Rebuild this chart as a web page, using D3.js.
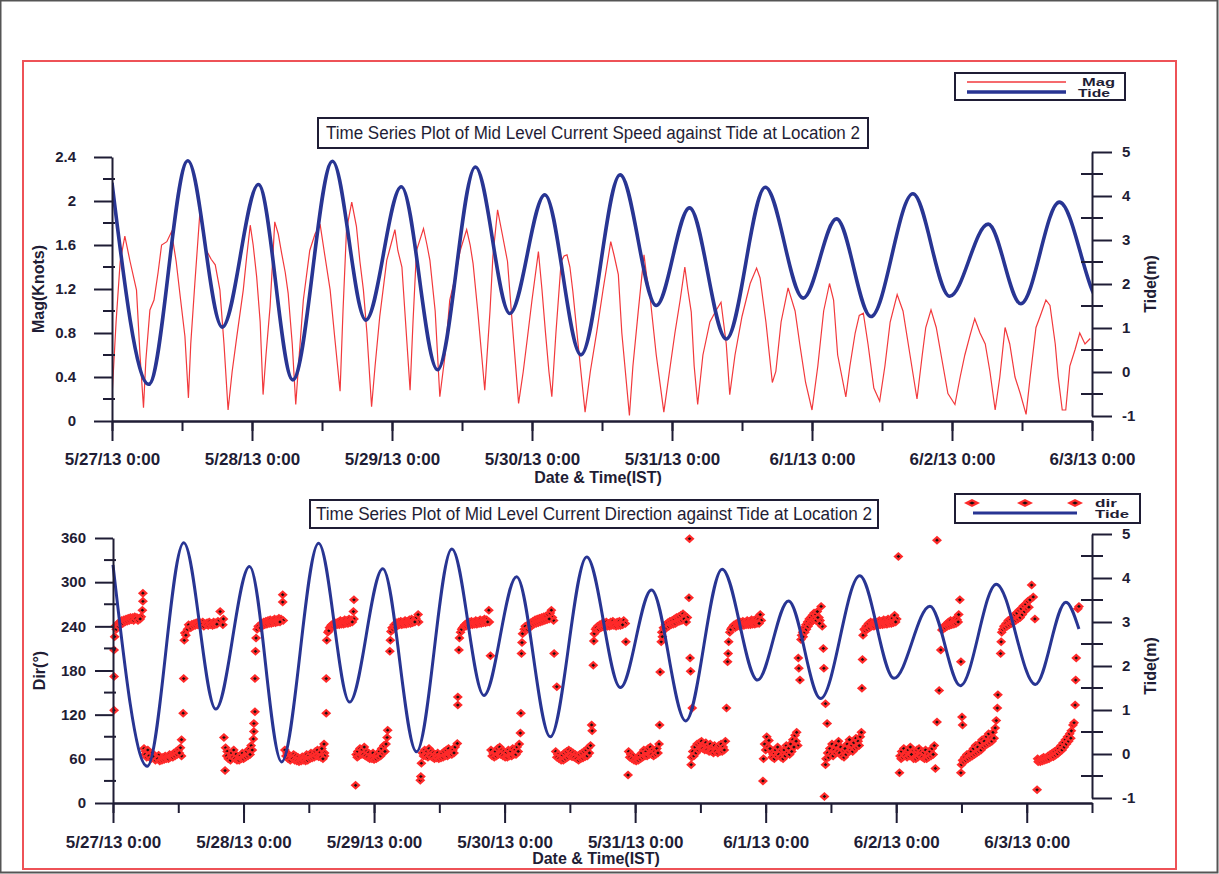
<!DOCTYPE html>
<html>
<head>
<meta charset="utf-8">
<script src="https://cdn.jsdelivr.net/npm/d3@7"></script>
<style>
  body { margin: 0; background: #fff; }
  svg text { font-family: "Liberation Sans Narrow", "Arial Narrow", "Liberation Sans", Arial, sans-serif; fill: #1f1d35; }
</style>
</head>
<body>
<svg id="chart" width="1219" height="874"></svg>
<script>
// hours after 5/27/13 0:00 (IST)
const tideHours = [0, 6.3, 13.0, 18.9, 25.1, 31.0, 37.8, 43.5, 49.6, 55.8, 62.3, 68.2, 74.2, 80.4, 87.1,
  93.3, 99.0, 105.3, 112.0, 118.5, 124.2, 130.1, 137.3, 143.6, 150.2, 155.8, 162.4, 169.6, 175.2, 177.6];
const tideValues = [4.3, -0.28, 4.8, 1.02, 4.26, -0.18, 4.79, 1.18, 4.21, 0.05, 4.66, 1.33, 4.03, 0.39, 4.48,
  1.51, 3.73, 0.75, 4.2, 1.68, 3.48, 1.26, 4.05, 1.72, 3.36, 1.55, 3.86, 1.58, 3.45, 2.84];

const magHours = [0, 0.7, 1.4, 2.2, 3.1, 4.2, 4.8, 5.4, 5.8, 6.5, 7.2, 7.9, 8.5, 9.4, 10.2, 11.0, 11.7, 12.5, 13.1, 13.5,
  14.2, 15.1, 15.6, 16.2, 17.0, 17.7, 18.5, 19.2, 19.9, 20.6, 21.4, 22.5, 23.1, 23.7, 24.2, 24.8, 25.4, 25.9, 26.4, 27.1,
  27.9, 28.5, 29.1, 29.7, 30.2, 30.9, 31.5, 32.1, 32.8, 33.9, 34.8, 35.7, 36.5, 37.4, 38.2, 39.1, 39.6, 40.2, 41.1, 41.9,
  42.5, 43.1, 43.7, 44.5, 45.1, 45.9, 47.1, 47.8, 48.5, 49.0, 49.7, 50.2, 51.1, 51.6, 52.2, 53.4, 54.0, 54.5, 55.4, 56.2,
  57.1, 57.9, 58.8, 59.7, 60.8, 61.4, 61.9, 62.7, 63.9, 64.8, 65.3, 66.1, 66.9, 67.8, 68.6, 69.7, 70.5, 71.2, 72.0, 73.1,
  73.7, 74.3, 74.9, 75.4, 76.1, 77.0, 77.5, 78.0, 78.5, 79.0, 79.9, 81.1, 82.0, 83.1, 84.2, 85.5, 86.1, 86.8, 87.4, 88.7,
  89.3, 90.2, 91.2, 91.7, 92.2, 93.3, 94.6, 95.7, 96.5, 97.4, 98.2, 98.7, 99.3, 99.8, 100.4, 101.3, 102.5, 103.5, 104.4, 105.3,
  105.9, 106.8, 108.0, 109.4, 110.5, 111.1, 112.1, 113.2, 113.8, 114.7, 115.9, 117.1, 117.9, 118.9, 120.0, 121.0, 122.0, 123.0, 123.7, 124.4,
  125.8, 126.5, 127.4, 128.1, 128.8, 129.6, 130.6, 131.6, 132.5, 133.4, 134.6, 135.6, 136.8, 138.0, 138.9, 139.5, 140.4, 141.3, 142.3, 143.3,
  144.5, 145.4, 146.2, 147.1, 147.9, 148.8, 149.7, 150.5, 151.4, 152.2, 153.1, 153.9, 154.8, 155.7, 156.7, 157.4, 158.4, 159.1, 160.1, 160.8,
  161.7, 162.2, 162.9, 163.5, 164.2, 165.1, 165.9, 166.8, 167.7];
const magValues = [0.22, 0.9, 1.45, 1.68, 1.45, 1.19, 0.6, 0.12, 0.55, 1.01, 1.1, 1.35, 1.6, 1.63, 1.72, 1.45, 1.13, 0.77, 0.21, 0.7,
  1.25, 1.92, 1.7, 1.55, 1.47, 1.42, 1.19, 0.7, 0.1, 0.45, 0.77, 1.19, 1.5, 1.78, 1.6, 1.31, 0.9, 0.24, 0.6, 1.04,
  1.81, 1.7, 1.52, 1.35, 1.16, 0.7, 0.15, 0.6, 1.1, 1.55, 1.7, 1.78, 1.5, 1.19, 0.75, 0.27, 1.0, 1.74, 1.99, 1.77,
  1.45, 1.19, 0.8, 0.13, 0.5, 0.95, 1.46, 1.6, 1.74, 1.55, 1.4, 1.0, 0.28, 0.9, 1.55, 1.75, 1.6, 1.46, 1.0, 0.22,
  0.6, 1.1, 1.3, 1.55, 1.74, 1.6, 1.43, 1.0, 0.28, 1.0, 1.5, 1.92, 1.7, 1.45, 0.9, 0.16, 0.45, 0.75, 1.1, 1.54,
  1.2, 0.81, 0.45, 0.22, 0.8, 1.45, 1.5, 1.51, 1.4, 1.18, 0.7, 0.08, 0.45, 0.81, 1.2, 1.63, 1.5, 1.33, 0.8, 0.05,
  0.5, 0.99, 1.51, 1.3, 1.15, 0.6, 0.08, 0.5, 0.8, 1.1, 1.4, 1.2, 0.99, 0.5, 0.15, 0.6, 0.9, 1.0, 1.08, 0.7,
  0.24, 0.6, 0.95, 1.25, 1.39, 1.3, 0.9, 0.35, 0.45, 0.9, 1.21, 1.0, 0.7, 0.35, 0.1, 0.5, 1.0, 1.25, 1.1, 0.6,
  0.22, 0.5, 0.8, 0.96, 0.98, 0.7, 0.3, 0.18, 0.5, 0.9, 1.15, 1.0, 0.6, 0.2, 0.6, 0.85, 1.01, 0.85, 0.55, 0.25,
  0.15, 0.4, 0.6, 0.78, 0.93, 0.8, 0.7, 0.45, 0.1, 0.4, 0.85, 0.7, 0.4, 0.25, 0.06, 0.4, 0.85, 0.95, 1.1, 1.05,
  0.7, 0.4, 0.1, 0.1, 0.5, 0.65, 0.8, 0.7, 0.75];

// [hours, direction in degrees]
const dirPoints = [
  [0.2,126],[0.2,172],[0.2,208],[0.3,226],[0.4,240],[0.8,243],[1.2,246],[1.6,248],[2.0,249],[2.4,250],[2.8,251],[3.2,252],
  [3.6,252],[4.0,253],[4.4,252],[4.8,251],[5.2,253],[5.4,262],[5.5,274],[5.5,285],
  [0.6,236],[1.0,240],[1.4,242],[1.8,244],[2.2,246],[2.6,247],[3.0,248],[3.4,249],[3.8,248],[4.2,250],[4.6,248],[5.0,250],
  [5.7,74],[6.0,70],[6.4,72],[6.8,66],[7.2,68],[7.6,64],[8.0,62],[8.4,65],[8.8,60],[9.2,62],[9.6,64],[10.0,63],[10.4,66],
  [10.8,65],[11.2,68],[11.6,70],[12.0,72],[12.4,75],[12.6,86],[12.6,64],
  [5.9,66],[6.2,62],[6.6,64],[7.0,60],[7.4,63],[7.8,58],[8.2,60],[8.6,57],[9.0,58],[9.4,59],[9.8,60],[10.2,60],[10.6,62],
  [11.0,62],[11.4,64],[11.8,66],[12.2,68],
  [12.9,122],[13.0,169],[13.1,221],[13.2,231],
  [13.4,228],[13.7,236],[14.1,240],[14.5,243],[14.9,244],[15.3,245],[15.7,246],[16.1,245],[16.5,246],[16.9,244],[17.3,245],
  [17.7,246],[18.1,244],[18.5,246],[18.9,245],[19.3,247],[19.7,260],[20.2,242],[20.3,250],
  [13.9,242],[14.3,238],[14.7,240],[15.1,241],[15.5,242],[15.9,241],[16.3,242],[16.7,240],[17.1,242],[17.5,241],[17.9,242],
  [18.3,241],[18.7,242],[19.1,243],
  [20.4,89],[20.6,44],[20.7,75],[21.0,70],[21.4,63],[21.8,68],[22.2,72],[22.6,66],[23.0,62],[23.4,64],[23.8,68],[24.2,64],
  [24.6,70],[25.0,73],[25.4,78],[25.8,87],[25.9,97],[25.9,108],
  [20.9,64],[21.2,60],[21.6,58],[22.0,62],[22.4,60],[22.8,58],[23.2,58],[23.6,60],[24.0,60],[24.4,62],[24.8,64],[25.2,66],[25.6,72],
  [26.1,124],[26.1,169],[26.2,206],[26.3,224],
  [26.5,236],[26.9,240],[27.3,244],[27.7,246],[28.1,247],[28.5,248],[28.9,249],[29.3,248],[29.7,250],[30.1,249],[30.5,251],
  [30.9,250],[31.2,273],[31.2,283],[31.3,248],
  [26.7,240],[27.1,238],[27.5,241],[27.9,242],[28.3,243],[28.7,244],[29.1,244],[29.5,245],[29.9,245],[30.3,246],[30.7,246],
  [31.6,72],[32.0,68],[32.4,65],[32.8,63],[33.2,66],[33.6,64],[34.0,62],[34.4,60],[34.8,63],[35.2,62],[35.6,66],[36.0,64],
  [36.4,68],[36.8,66],[37.2,70],[37.6,72],[38.0,68],[38.4,74],[38.8,80],[38.9,68],[38.9,64],
  [31.8,64],[32.2,60],[32.6,58],[33.0,60],[33.4,58],[33.8,57],[34.2,56],[34.6,57],[35.0,58],[35.4,57],[35.8,58],[36.2,60],
  [36.6,61],[37.0,62],[37.4,64],[37.8,63],[38.2,62],[38.6,60],
  [39.2,122],[39.2,169],[39.3,221],
  [39.5,232],[39.8,238],[40.2,242],[40.6,244],[41.0,245],[41.4,246],[41.8,248],[42.2,247],[42.6,249],[43.0,248],[43.4,250],
  [43.8,249],[44.2,260],[44.3,276],[44.3,250],
  [39.7,234],[40.0,240],[40.4,240],[40.8,241],[41.2,242],[41.6,242],[42.0,243],[42.4,243],[42.8,244],[43.2,244],[43.6,245],[44.0,246],
  [44.6,24],[44.7,66],[45.0,70],[45.4,74],[45.8,72],[46.2,76],[46.6,70],[47.0,68],[47.4,65],[47.8,68],[48.2,64],[48.6,66],
  [49.0,70],[49.4,74],[49.8,78],[50.2,80],[50.4,89],[50.5,99],
  [44.9,62],[45.2,64],[45.6,66],[46.0,66],[46.4,64],[46.8,62],[47.2,60],[47.6,60],[48.0,59],[48.4,60],[48.8,62],[49.2,64],
  [49.6,68],[50.0,70],
  [50.9,206],[51.0,221],[51.1,233],
  [51.3,238],[51.7,242],[52.1,245],[52.5,246],[52.9,247],[53.3,246],[53.7,248],[54.1,247],[54.5,249],[54.9,250],[55.3,248],
  [55.7,251],[56.1,256],[56.2,246],
  [51.5,236],[51.9,238],[52.3,241],[52.7,242],[53.1,242],[53.5,243],[53.9,243],[54.3,244],[54.7,244],[55.1,245],[55.5,246],
  [56.5,31],[56.6,36],[56.7,54],[56.9,68],[57.3,72],[57.7,70],[58.1,74],[58.5,70],[58.9,68],[59.3,66],[59.7,68],[60.1,65],
  [60.5,67],[60.9,70],[61.3,72],[61.7,74],[62.1,70],[62.5,72],[62.9,76],[63.3,81],[63.4,133],[63.4,144],
  [57.1,64],[57.5,64],[57.9,62],[58.3,64],[58.7,62],[59.1,60],[59.5,61],[59.9,60],[60.3,61],[60.7,62],[61.1,64],[61.5,64],
  [61.9,66],[62.3,66],[62.7,68],
  [63.6,208],[63.7,224],
  [63.9,232],[64.3,238],[64.7,242],[65.1,245],[65.5,246],[65.9,247],[66.3,246],[66.7,248],[67.1,247],[67.5,249],[67.9,248],
  [68.3,250],[68.7,249],[69.1,262],[69.2,246],[69.4,200],
  [64.1,236],[64.5,240],[64.9,240],[65.3,241],[65.7,242],[66.1,242],[66.5,243],[66.9,243],[67.3,244],[67.7,244],[68.1,245],
  [68.5,245],[68.9,246],
  [69.5,72],[69.9,68],[70.3,70],[70.7,74],[71.1,76],[71.5,72],[71.9,70],[72.3,68],[72.7,72],[73.1,70],[73.5,74],[73.9,72],
  [74.3,76],[74.7,80],[74.9,95],[75.0,122],
  [69.7,64],[70.1,62],[70.5,64],[70.9,66],[71.3,66],[71.7,64],[72.1,62],[72.5,62],[72.9,64],[73.3,64],[73.7,66],[74.1,66],[74.5,70],
  [75.1,203],[75.2,218],[75.3,230],
  [75.6,236],[76.0,240],[76.4,243],[76.8,245],[77.2,247],[77.6,249],[78.0,250],[78.4,251],[78.8,252],[79.2,253],[79.6,254],
  [80.0,256],[80.4,258],[80.8,252],[81.0,248],[81.1,203],[81.6,158],
  [75.8,240],[76.2,236],[76.6,238],[77.0,241],[77.4,243],[77.8,244],[78.2,245],[78.6,246],[79.0,247],[79.4,248],[79.8,249],
  [80.2,250],[80.6,262],
  [81.4,70],[81.8,66],[82.2,63],[82.6,65],[83.0,68],[83.4,70],[83.8,72],[84.2,70],[84.6,68],[85.0,66],[85.4,64],[85.8,66],
  [86.2,68],[86.6,70],[87.0,72],[87.4,75],[87.8,78],[88.0,106],[88.1,98],
  [81.6,62],[82.0,60],[82.4,58],[82.8,58],[83.2,60],[83.6,62],[84.0,64],[84.4,63],[84.8,62],[85.2,60],[85.6,58],[86.0,60],
  [86.4,61],[86.8,63],[87.2,64],[87.6,68],
  [88.3,187],[88.4,220],[88.5,230],
  [88.7,236],[89.1,240],[89.5,242],[89.9,244],[90.3,245],[90.7,246],[91.1,244],[91.5,246],[91.9,247],[92.3,245],[92.7,246],
  [93.1,247],[93.5,245],[93.9,248],[94.2,244],[94.3,219],
  [88.9,238],[89.3,236],[89.7,238],[90.1,239],[90.5,240],[90.9,240],[91.3,240],[91.7,241],[92.1,241],[92.5,240],[92.9,241],
  [93.3,241],[93.7,242],
  [94.7,38],[94.8,70],[95.2,66],[95.6,64],[96.0,60],[96.4,62],[96.8,64],[97.2,68],[97.6,72],[98.0,70],[98.4,74],[98.8,76],
  [99.2,72],[99.6,70],[100.0,74],[100.4,80],[100.5,106],
  [95.0,62],[95.4,60],[95.8,58],[96.2,57],[96.6,58],[97.0,60],[97.4,62],[97.8,64],[98.2,64],[98.6,66],[99.0,66],[99.4,64],
  [99.8,66],[100.2,68],
  [100.6,178],[100.8,219],
  [100.9,232],[101.2,238],[101.6,242],[102.0,245],[102.4,247],[102.8,248],[103.2,250],[103.6,252],[104.0,253],[104.4,255],
  [104.8,257],[105.2,254],[105.6,252],[105.9,279],[106.0,359],[106.1,197],[106.2,179],[106.5,129],
  [101.0,226],[101.4,236],[101.8,238],[102.2,240],[102.6,242],[103.0,243],[103.4,244],[103.8,246],[104.2,247],[104.6,248],
  [105.0,250],[105.4,246],
  [106.3,52],[106.4,62],[106.6,70],[107.0,76],[107.4,80],[107.8,82],[108.2,84],[108.6,80],[109.0,82],[109.4,78],[109.8,80],
  [110.2,76],[110.6,78],[111.0,74],[111.4,78],[111.8,80],[112.2,76],[112.6,84],[112.8,129],
  [106.8,64],[107.2,68],[107.6,72],[108.0,74],[108.4,74],[108.8,72],[109.2,72],[109.6,70],[110.0,70],[110.4,68],[110.8,70],
  [111.2,68],[111.6,70],[112.0,70],[112.4,72],
  [113.0,192],[113.1,203],[113.2,219],
  [113.4,232],[113.8,238],[114.2,242],[114.6,244],[115.0,245],[115.4,246],[115.8,247],[116.2,246],[116.6,248],[117.0,247],
  [117.4,249],[117.8,248],[118.2,250],[118.6,249],[119.0,256],[119.2,248],
  [113.6,236],[114.0,240],[114.4,238],[114.8,240],[115.2,240],[115.6,241],[116.0,241],[116.4,242],[116.8,242],[117.2,242],
  [117.6,243],[118.0,243],[118.4,244],[118.8,244],
  [119.5,30],[119.6,60],[119.8,80],[120.2,90],[120.6,85],[121.0,70],[121.4,66],[121.8,72],[122.2,76],[122.6,70],[123.0,66],
  [123.4,72],[123.8,78],[124.2,74],[124.6,80],[125.0,86],[125.4,92],[125.7,96],[125.9,78],
  [120.0,72],[120.4,76],[120.8,74],[121.2,62],[121.6,60],[122.0,64],[122.4,66],[122.8,62],[123.2,60],[123.6,64],[124.0,68],
  [124.4,66],[124.8,70],[125.2,76],[125.6,84],
  [126.0,197],[126.1,183],[126.3,167],
  [126.5,222],[126.8,232],[127.1,238],[127.4,242],[127.7,246],[128.0,250],[128.3,252],[128.6,255],[128.9,258],[129.2,256],
  [129.5,260],[129.8,252],[130.0,248],[130.2,267],[130.4,240],[130.6,210],[130.7,183],[131.0,135],[131.3,108],
  [126.6,228],[126.9,226],[127.2,232],[127.5,236],[127.8,240],[128.1,244],[128.4,246],[128.7,248],[129.0,250],[129.3,248],
  [129.6,252],[129.9,244],
  [130.8,9],[131.0,52],[131.1,60],[131.4,68],[131.8,74],[132.2,80],[132.6,72],[133.0,78],[133.4,84],[133.8,76],[134.2,70],
  [134.6,74],[135.0,80],[135.4,86],[135.8,78],[136.2,82],[136.6,88],[137.0,84],[137.4,90],[137.6,96],[137.7,156],
  [131.6,62],[132.0,66],[132.4,64],[132.8,68],[133.2,70],[133.6,68],[134.0,64],[134.4,62],[134.8,66],[135.2,70],[135.6,72],
  [136.0,70],[136.4,74],[136.8,76],[137.2,78],
  [137.8,195],[137.9,228],
  [138.1,236],[138.5,240],[138.9,244],[139.3,246],[139.7,245],[140.1,247],[140.5,246],[140.9,248],[141.3,247],[141.7,249],
  [142.1,248],[142.5,250],[142.9,249],[143.3,251],[143.7,255],[144.1,250],[144.4,335],
  [138.3,234],[138.7,236],[139.1,238],[139.5,240],[139.9,240],[140.3,241],[140.7,241],[141.1,242],[141.5,242],[141.9,243],
  [142.3,243],[142.7,244],[143.1,244],[143.5,245],[143.9,246],
  [144.6,41],[144.7,64],[145.0,70],[145.4,74],[145.8,68],[146.2,72],[146.6,76],[147.0,70],[147.4,66],[147.8,72],[148.2,74],
  [148.6,70],[149.0,68],[149.4,72],[149.8,66],[150.2,70],[150.6,74],[151.0,78],[151.2,47],
  [144.9,60],[145.2,62],[145.6,64],[146.0,62],[146.4,64],[146.8,66],[147.2,60],[147.6,60],[148.0,62],[148.4,64],[148.8,62],
  [149.2,60],[149.6,60],[150.0,62],[150.4,64],[150.8,66],
  [151.5,110],[151.9,153],[152.2,208],
  [151.5,357],[152.4,235],[152.8,240],[153.2,243],[153.6,246],[154.0,248],[154.4,246],[154.8,250],[155.2,249],[155.5,256],
  [155.7,276],[155.9,192],
  [152.6,236],[153.0,238],[153.4,240],[153.8,241],[154.2,242],[154.6,243],[155.0,244],[155.4,246],
  [155.9,41],[156.0,52],[156.1,117],[156.2,106],[156.2,58],[156.6,62],[157.0,66],[157.4,64],[157.8,70],[158.2,74],[158.6,78],
  [159.0,76],[159.4,82],[159.8,86],[160.2,84],[160.6,90],[161.0,94],[161.4,88],[161.8,96],[162.2,102],[162.4,112],
  [162.6,129],[162.7,147],
  [156.4,56],[156.8,58],[157.2,60],[157.6,62],[158.0,64],[158.4,66],[158.8,68],[159.2,70],[159.6,72],[160.0,76],[160.4,78],
  [160.8,80],[161.2,82],[161.6,84],[162.0,88],
  [163.2,203],[163.3,219],
  [163.4,232],[163.8,240],[164.2,244],[164.6,248],[165.0,250],[165.4,252],[165.8,256],[166.2,258],[166.6,262],[167.0,264],
  [167.4,268],[167.8,270],[168.2,274],[168.6,276],[168.9,296],[169.2,280],[169.5,250],
  [163.6,236],[164.0,238],[164.4,240],[164.8,242],[165.2,244],[165.6,246],[166.0,248],[166.4,250],[166.8,252],[167.2,256],
  [167.6,260],[168.0,264],[168.4,266],
  [169.9,18],[170.0,60],[170.3,58],[170.7,60],[171.1,62],[171.5,61],[171.9,64],[172.3,66],[172.7,68],[173.1,70],[173.5,72],
  [173.9,74],[174.3,78],[174.7,82],[175.1,86],[175.5,90],[175.9,94],[176.2,98],[176.5,106],[176.7,109],[176.9,133],
  [177.0,167],[177.1,197],[177.4,264],[177.6,267],
  [170.1,56],[170.5,56],[170.9,57],[171.3,58],[171.7,59],[172.1,60],[172.5,62],[172.9,63],[173.3,65],[173.7,67],[174.1,70],
  [174.5,72],[174.9,76],[175.3,80],[175.7,84],[176.1,88]
];

const magTicks = [0, 0.4, 0.8, 1.2, 1.6, 2, 2.4];
const dirTicks = [0, 60, 120, 180, 240, 300, 360];
const tideTicks = [-1, 0, 1, 2, 3, 4, 5];

const ink = '#1f1d35';
const tideBlue = '#283593';
const magRed = '#f2393c';
const t0 = Date.UTC(2013, 4, 27);
const toDate = h => new Date(t0 + h * 3600e3);
const fmtDay = d3.utcFormat('%-m/%-d/%y %-H:%M');

const svg = d3.select('#chart');

// page border and red frame
svg.append('rect').attr('x', 0.5).attr('y', 0.5).attr('width', 1217).attr('height', 872)
  .attr('fill', 'none').attr('stroke', '#555').attr('stroke-width', 2);
svg.append('rect').attr('x', 23).attr('y', 61).attr('width', 1153).attr('height', 808)
  .attr('fill', 'none').attr('stroke', '#ee5257').attr('stroke-width', 2);

function styleAxis(s, size) {
  s.attr('font-family', null).attr('font-size', null);
  s.selectAll('line, path').attr('stroke', ink).attr('stroke-width', 2);
  s.selectAll('text').attr('fill', ink).style('font-size', size + 'px').style('font-weight', 'bold');
}

function drawAxes(o, x, yL, yR, leftTicks, leftMinor, leftFmt) {
  // x axis: 12 h minor ticks, daily labels
  svg.append('g').attr('transform', `translate(0,${o.bottom})`)
    .call(d3.axisBottom(x).ticks(d3.utcHour.every(12)).tickSize(10).tickSizeOuter(0).tickFormat(''))
    .call(s => styleAxis(s, 17));
  svg.append('g').attr('transform', `translate(0,${o.bottom})`)
    .call(d3.axisBottom(x).ticks(d3.utcDay.every(1)).tickSize(20).tickSizeOuter(0).tickPadding(o.xPad).tickFormat(fmtDay))
    .call(s => styleAxis(s, 17));

  // left axis
  svg.append('g').attr('transform', `translate(${o.left},0)`)
    .call(d3.axisLeft(yL).tickValues(leftTicks).tickSize(18).tickSizeOuter(0).tickPadding(o.lPad).tickFormat(leftFmt))
    .call(s => styleAxis(s, 15));
  svg.append('g').selectAll('line').data(leftMinor).join('line')
    .attr('x1', o.left - 9).attr('x2', o.left + 3)
    .attr('y1', d => yL(d)).attr('y2', d => yL(d))
    .attr('stroke', ink).attr('stroke-width', 2);

  // right tide axis
  svg.append('g').attr('transform', `translate(${o.right},0)`)
    .call(d3.axisRight(yR).tickValues(tideTicks).tickSize(20).tickSizeOuter(0).tickPadding(10).tickFormat(d => d))
    .call(s => styleAxis(s, 15));
  svg.append('g').selectAll('line').data(d3.range(-0.5, 5, 1)).join('line')
    .attr('x1', o.right - 11).attr('x2', o.right + 11)
    .attr('y1', d => yR(d)).attr('y2', d => yR(d))
    .attr('stroke', ink).attr('stroke-width', 2);

  svg.append('text').attr('x', o.titleX).attr('y', o.xTitleY).attr('text-anchor', 'middle')
    .style('font-size', '16px').style('font-weight', 'bold').text('Date & Time(IST)');
  svg.append('text').attr('transform', `translate(${o.left - 68},${(yL.range()[0] + yL.range()[1]) / 2}) rotate(-90)`)
    .attr('text-anchor', 'middle').style('font-size', '16px').style('font-weight', 'bold').text(o.leftTitle);
  svg.append('text').attr('transform', `translate(${o.right + 64},${(yR.range()[0] + yR.range()[1]) / 2}) rotate(-90)`)
    .attr('text-anchor', 'middle').style('font-size', '16px').style('font-weight', 'bold').text('Tide(m)');
}

function titleBox(x0, y0, w, h, label, len) {
  svg.append('rect').attr('x', x0).attr('y', y0).attr('width', w).attr('height', h)
    .attr('fill', '#fff').attr('stroke', ink).attr('stroke-width', 2);
  svg.append('text').attr('x', x0 + w / 2).attr('y', y0 + h / 2 + 6).attr('text-anchor', 'middle')
    .attr('textLength', len).attr('lengthAdjust', 'spacingAndGlyphs')
    .style('font-size', '18px').text(label);
}

// legend labels in the source are short and stretched wide
function legendText(g, x, y, label, len) {
  g.append('text').attr('x', x).attr('y', y)
    .attr('textLength', len).attr('lengthAdjust', 'spacingAndGlyphs')
    .style('font-family', '"Liberation Sans", Arial, sans-serif').style('font-size', '11px').style('font-weight', 'bold')
    .text(label);
}

const tideData = d3.zip(tideHours, tideValues);
const magData = d3.zip(magHours, magValues);

// ---------- top panel: current speed ----------
{
  const o = { left: 112, right: 1092, top: 157, bottom: 421, xPad: 12, lPad: 18, titleX: 598, xTitleY: 483, leftTitle: 'Mag(Knots)' };
  const x = d3.scaleUtc().domain([toDate(0), toDate(168)]).range([o.left, o.right]);
  const yL = d3.scaleLinear().domain([0, 2.4]).range([o.bottom, o.top]);
  const yR = d3.scaleLinear().domain([-1, 5]).range([416, 152]);

  svg.append('clipPath').attr('id', 'clipTop').append('rect')
    .attr('x', o.left).attr('y', 100).attr('width', o.right - o.left).attr('height', 360);

  const plot = svg.append('g').attr('clip-path', 'url(#clipTop)');
  plot.append('path').datum(magData)
    .attr('d', d3.line().x(d => x(toDate(d[0]))).y(d => yL(d[1])))
    .attr('fill', 'none').attr('stroke', magRed).attr('stroke-width', 1.2);
  plot.append('path').datum(tideData)
    .attr('d', d3.line().curve(d3.curveMonotoneX).x(d => x(toDate(d[0]))).y(d => yR(d[1])))
    .attr('fill', 'none').attr('stroke', tideBlue).attr('stroke-width', 3.6);

  drawAxes(o, x, yL, yR, magTicks, d3.range(0.2, 2.4, 0.4), d => String(+d.toFixed(1)));
  titleBox(318, 118, 550, 30, 'Time Series Plot of Mid Level Current Speed against Tide at Location 2', 534);

  // legend
  const lg = svg.append('g');
  lg.append('rect').attr('x', 955).attr('y', 73).attr('width', 170).attr('height', 27)
    .attr('fill', '#fff').attr('stroke', ink).attr('stroke-width', 2);
  lg.append('line').attr('x1', 967).attr('x2', 1066).attr('y1', 82).attr('y2', 82).attr('stroke', magRed).attr('stroke-width', 1.5);
  lg.append('line').attr('x1', 967).attr('x2', 1066).attr('y1', 92).attr('y2', 92).attr('stroke', tideBlue).attr('stroke-width', 3.5);
  legendText(lg, 1082, 86, 'Mag', 33);
  legendText(lg, 1078, 96.5, 'Tide', 32);
}

// ---------- bottom panel: current direction ----------
{
  const o = { left: 113, right: 1092, top: 538, bottom: 803, xPad: 13, lPad: 9, titleX: 596, xTitleY: 864, leftTitle: 'Dir(°)' };
  const x = d3.scaleUtc().domain([toDate(0), toDate(180)]).range([o.left, o.right]);
  const yL = d3.scaleLinear().domain([0, 360]).range([o.bottom, o.top]);
  const yR = d3.scaleLinear().domain([-1, 5]).range([798, 534]);

  const diamond = 'M-5,0L0,-4.5L5,0L0,4.5Z';
  const core = 'M-1.8,0L0,-1.6L1.8,0L0,1.6Z';
  const pts = svg.append('g').selectAll('g').data(dirPoints).join('g')
    .attr('transform', d => `translate(${x(toDate(d[0]))},${yL(d[1])})`);
  pts.append('path').attr('d', diamond).attr('fill', '#ff2a2a');
  pts.append('path').attr('d', core).attr('fill', '#1a1010');

  svg.append('path').datum(tideData)
    .attr('d', d3.line().curve(d3.curveMonotoneX).x(d => x(toDate(d[0]))).y(d => yR(d[1])))
    .attr('fill', 'none').attr('stroke', tideBlue).attr('stroke-width', 3);

  drawAxes(o, x, yL, yR, dirTicks, d3.range(30, 360, 60), d => d);
  titleBox(310, 500, 568, 28, 'Time Series Plot of Mid Level Current Direction against Tide at Location 2', 556);

  const lg = svg.append('g');
  lg.append('rect').attr('x', 955).attr('y', 494).attr('width', 185).attr('height', 29)
    .attr('fill', '#fff').attr('stroke', ink).attr('stroke-width', 2);
  lg.selectAll('g.mk').data([972, 1025, 1075]).join('g').attr('class', 'mk')
    .attr('transform', d => `translate(${d},503)`)
    .call(g => g.append('path').attr('d', 'M-8,0L0,-4L8,0L0,4Z').attr('fill', '#ff2a2a'))
    .call(g => g.append('path').attr('d', 'M-3,0L0,-1.6L3,0L0,1.6Z').attr('fill', '#1a1010'));
  lg.append('line').attr('x1', 973).attr('x2', 1077).attr('y1', 513).attr('y2', 513).attr('stroke', tideBlue).attr('stroke-width', 3);
  legendText(lg, 1095, 507, 'dir', 22);
  legendText(lg, 1095, 518, 'Tide', 34);
}
</script>
</body>
</html>
